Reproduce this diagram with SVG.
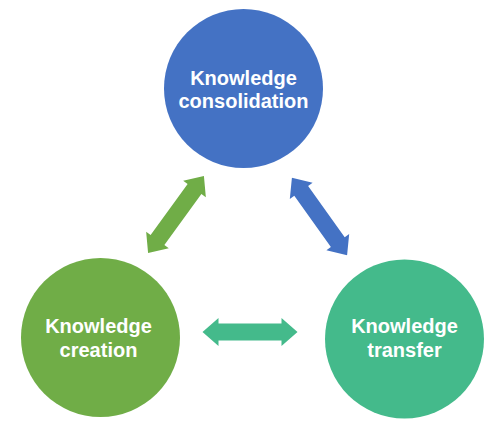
<svg xmlns="http://www.w3.org/2000/svg" xmlns:xlink="http://www.w3.org/1999/xlink" width="500" height="433" viewBox="0 0 500 433">
<style>
.lbl{font-family:"Liberation Sans",Arial,sans-serif;font-weight:bold;font-size:20px;fill:#fff;text-anchor:middle}
</style>
<defs>
<path id="dbl" d="M-47.5,0 L-31.5,-14 L-31.5,-8.5 L31.5,-8.5 L31.5,-14 L47.5,0 L31.5,14 L31.5,8.5 L-31.5,8.5 L-31.5,14 Z"/>
</defs>
<rect width="500" height="433" fill="#fff"/>
<g id="connectors">
<use xlink:href="#dbl" href="#dbl" fill="#70AD47" transform="translate(176,214.5) rotate(-54)"/>
<use xlink:href="#dbl" href="#dbl" fill="#4472C4" transform="translate(319.5,216.5) rotate(54.5)"/>
<use xlink:href="#dbl" href="#dbl" fill="#44BA8B" transform="translate(250,332)"/>
</g>
<g id="consolidation">
<circle cx="243.5" cy="88.5" r="79.5" fill="#4472C4"/>
<text class="lbl" x="243.5" y="85">Knowledge</text>
<text class="lbl" x="243.5" y="108">consolidation</text>
</g>
<g id="creation">
<circle cx="100.5" cy="337.5" r="79.5" fill="#70AD47"/>
<text class="lbl" x="98.5" y="333">Knowledge</text>
<text class="lbl" x="98.5" y="357">creation</text>
</g>
<g id="transfer">
<circle cx="404.5" cy="339" r="79.5" fill="#44BA8B"/>
<text class="lbl" x="404.5" y="333">Knowledge</text>
<text class="lbl" x="404.5" y="357">transfer</text>
</g>
</svg>
